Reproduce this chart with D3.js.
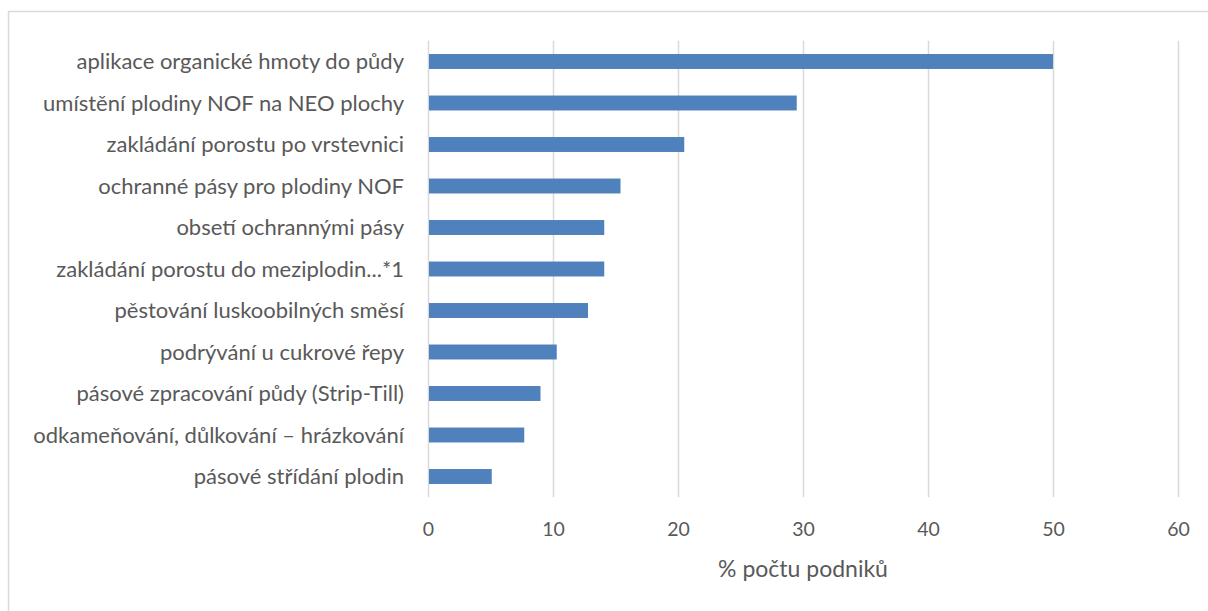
<!DOCTYPE html>
<html>
<head>
<meta charset="utf-8">
<script src="https://cdn.jsdelivr.net/npm/d3@7"></script>
<style>
  html, body { margin: 0; padding: 0; background: #fff; }
  svg { display: block; }
  text { font-family: Lato, "Open Sans", sans-serif; fill: #595959; }
</style>
</head>
<body>
<svg id="chart" width="1208" height="611"></svg>
<script>
// Opatření – podíl podniků (%)
const categories = [
  "aplikace organické hmoty do půdy",
  "umístění plodiny NOF na NEO plochy",
  "zakládání porostu po vrstevnici",
  "ochranné pásy pro plodiny NOF",
  "obsetí ochrannými pásy",
  "zakládání porostu do meziplodin...*1",
  "pěstování luskoobilných směsí",
  "podrývání u cukrové řepy",
  "pásové zpracování půdy (Strip-Till)",
  "odkameňování, důlkování – hrázkování",
  "pásové střídání plodin"
];
const values = [50, 29.5, 20.5, 15.4, 14.1, 14.1, 12.8, 10.3, 9.0, 7.7, 5.1];
const xTicks = [0, 10, 20, 30, 40, 50, 60];
const xTitle = "% počtu podniků";

const svg = d3.select("#chart");

// outer chart frame
svg.append("rect")
  .attr("x", 8.5).attr("y", 11.5)
  .attr("width", 1220).attr("height", 620)
  .attr("fill", "none").attr("stroke", "#d9d9d9").attr("stroke-width", 1.5);

const plot = { left: 428, right: 1178, top: 40.75, bottom: 497.25 };

const x = d3.scaleLinear().domain([0, 60]).range([plot.left, plot.right]);
const y = d3.scaleBand().domain(categories).range([plot.top, plot.bottom])
  .paddingInner(0.64).paddingOuter(0.32);

// vertical gridlines
svg.append("g").selectAll("line").data(xTicks).join("line")
  .attr("x1", d => Math.round(x(d)) + 0.5).attr("x2", d => Math.round(x(d)) + 0.5)
  .attr("y1", plot.top).attr("y2", plot.bottom)
  .attr("stroke", "#d9d9d9").attr("stroke-width", 1.5);

// bars
svg.append("g").selectAll("rect").data(categories).join("rect")
  .attr("x", x(0) + 1)
  .attr("y", d => y(d))
  .attr("width", (d, i) => x(values[i]) - x(0) - 1)
  .attr("height", y.bandwidth())
  .attr("fill", "#4f81bd");

// category labels
svg.append("g").selectAll("text").data(categories).join("text")
  .attr("x", 404)
  .attr("y", d => y(d) + y.bandwidth() / 2)
  .attr("dy", "0.36em")
  .attr("text-anchor", "end")
  .attr("font-size", 22)
  .text(d => d);

// x axis tick labels
const xAxis = d3.axisBottom(x).tickValues(xTicks).tickSize(0).tickPadding(0);
const gx = svg.append("g").attr("transform", `translate(0, 522)`).call(xAxis);
gx.select(".domain").remove();
gx.selectAll("text")
  .attr("font-size", 19.5)
  .attr("font-family", "Lato, 'Open Sans', sans-serif")
  .attr("fill", "#595959")
  .attr("dy", "0.71em");

// axis title
svg.append("text")
  .attr("x", (plot.left + plot.right) / 2)
  .attr("y", 577)
  .attr("text-anchor", "middle")
  .attr("font-size", 23)
  .text(xTitle);
</script>
</body>
</html>
